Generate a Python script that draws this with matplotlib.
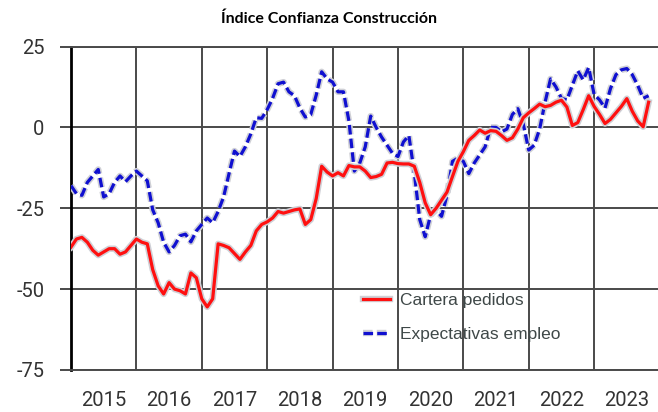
import numpy as np
import matplotlib
matplotlib.use("Agg")
import matplotlib.pyplot as plt
import matplotlib.patheffects as pe

# Monthly index values, Jan 2015 - Nov 2023
start_year = 2015
years = [2015, 2016, 2017, 2018, 2019, 2020, 2021, 2022, 2023]

cartera_pedidos = [
    -37, -34.5, -34, -35.5, -38, -39.5, -38.5, -37.5, -37.5, -39.2, -38.5, -36.5,
    -34.5, -35.5, -36, -44, -49, -51.5, -48, -50, -50.5, -51.5, -45, -46.5,
    -53, -55.5, -53, -36, -36.5, -37.2, -39, -40.8, -38.5, -36.5, -32, -30,
    -29.2, -28, -26, -26.5, -26, -25.5, -25.2, -30, -28.5, -22, -12, -13.8,
    -15, -14, -15, -11.8, -12.2, -12.2, -13.5, -15.5, -15.2, -14.5, -11, -10.8,
    -11.2, -11.3, -11.3, -12, -17, -23.3, -27, -25, -22.5, -20, -15.2, -10.5,
    -7.5, -4, -2.5, -0.8, -1.8, -1, -1.2, -2.5, -4, -3.2, -0.5, 3,
    4.5, 5.8, 7.2, 6.4, 6.8, 7.8, 8.4, 6.3, 0.6, 1.5, 5.5, 9.8,
    6.5, 4, 1.2, 2.5, 4.5, 6.5, 8.9, 5, 2, 0.2, 7.8,
]

expectativas_empleo = [
    -18, -20.5, -21, -17, -15, -13, -21.5, -20.5, -17, -15, -16.8, -15,
    -13.5, -15, -16.5, -25.5, -29.5, -35.5, -38.5, -36.5, -33.5, -33, -35.4, -32,
    -30, -28, -29.5, -26, -21.5, -14.3, -7.3, -9, -6, -2, 3, 2.8,
    5.5, 9, 13.5, 14, 11, 9.8, 6, 3.2, 4, 10, 17.2, 15,
    14, 11, 11, 2, -13.5, -11, -6, 3.5, 0, -3, -5.5, -8,
    -9, -4.5, -2.5, -14, -28.5, -33.8, -27, -25.5, -27.5, -21, -10.5, -9.5,
    -10.5, -14.3, -11, -8.5, -6, 0, 0, -1.4, -0.5, 4, 5.8, 1,
    -7, -5.5, -0.5, 7.8, 15, 12.5, 9, 8.5, 13, 17.5, 14.7, 18.5,
    10.2, 8.5, 6, 12, 16.3, 17.8, 18.2, 16.3, 13, 9, 9.8,
]

t = start_year + np.arange(len(cartera_pedidos)) / 12.0

plt.rcParams["axes.unicode_minus"] = False
grid_c = "#4a4a4a"

fig = plt.figure(figsize=(6.58, 4.12), dpi=100)
ax = fig.add_axes([0.1079, 0.102, 0.8944, 0.785])

halo = [pe.Stroke(linewidth=4.6, foreground="#cfd0d6"), pe.Normal()]
ax.plot(t, cartera_pedidos, color="#ff1010", lw=2.3,
        label="Cartera pedidos", path_effects=halo, zorder=4)
ax.plot(t, expectativas_empleo, color="#1010d0", lw=2.3, dashes=(3, 1.3),
        label="Expectativas empleo", path_effects=halo, zorder=3)

ax.set_xlim(2015, 2024)
ax.set_ylim(-75, 25)

# year boundaries carry the grid, mid-year ticks carry the labels
ax.set_xticks(np.arange(2015, 2025))
ax.set_xticklabels([])
ax.set_xticks([y + 0.5 for y in years], minor=True)
ax.set_xticklabels([str(y) for y in years], minor=True)
ax.tick_params(axis="x", which="both", length=0, pad=15,
               labelsize=14.5, labelcolor="#333333")
ax.set_yticks([-75, -50, -25, 0, 25])
ax.set_yticklabels(["-75", "-50", "-25", "0", "25"])
ax.tick_params(axis="y", length=8, width=1.4, color=grid_c, pad=11,
               labelsize=14.5, labelcolor="#333333")
for lbl in ax.get_xticklabels(minor=True) + ax.get_yticklabels():
    lbl.set_family("Roboto")

ax.grid(True, which="major", color=grid_c, lw=1.4)
ax.set_axisbelow(True)
for side in ("top", "bottom"):
    ax.spines[side].set_color(grid_c)
    ax.spines[side].set_linewidth(1.4)
ax.spines["right"].set_visible(False)
ax.spines["left"].set_color("black")
ax.spines["left"].set_linewidth(2.0)

leg = ax.legend(loc="center left", bbox_to_anchor=(0.496, 0.162),
                frameon=False, borderpad=0, borderaxespad=0,
                handlelength=1.55, handletextpad=0.6, labelspacing=1.1,
                prop={"family": "Liberation Sans", "size": 12.5})
for txt in leg.get_texts():
    txt.set_color("#3f4848")

fig.text(0.5, 0.955, "Índice Confianza Construcción", ha="center", va="center",
         fontsize=11.5, fontweight="bold", family="Lato")

fig.savefig("out.png", dpi=100)
